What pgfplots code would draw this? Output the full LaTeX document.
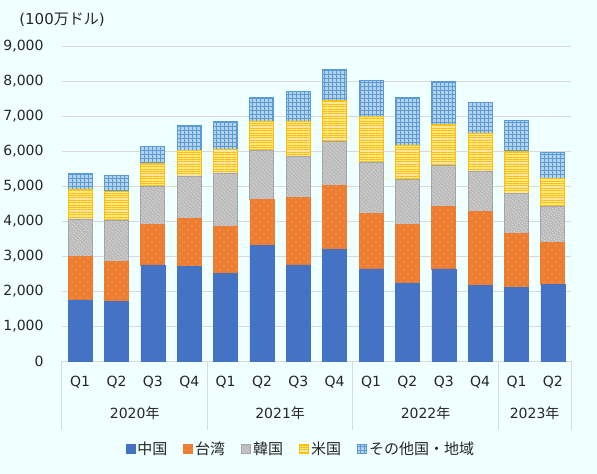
\documentclass[border=0pt]{standalone}
\usepackage{fontspec}
\setmainfont{DejaVu Sans}
\newfontfamily\cjk{Noto Sans CJK JP}
\usepackage{pgfplots}
\usepackage{pgfplotstable}
\pgfplotsset{compat=1.18}
\usetikzlibrary{patterns,patterns.meta}
\definecolor{bg}{HTML}{F0FFFF}
\definecolor{cchina}{HTML}{4472C4}
\definecolor{ctaiwan}{HTML}{ED7D31}
\definecolor{ckorea}{HTML}{A5A5A5}
\definecolor{cus}{HTML}{FFC000}
\definecolor{cother}{HTML}{5B9BD5}
\definecolor{gridc}{HTML}{D9D9D9}
\definecolor{txt}{HTML}{262626}
\pgfplotstableread{
x china taiwan korea us other
0 1743 1257 1029 857 477
1 1714 1134 1162 847 448
2 2743 1152 1086 648 504
3 2714 1353 1209 734 723
4 2514 1334 1504 677 819
5 3295 1324 1391 838 685
6 2743 1933 1153 1028 848
7 3200 1810 1257 1181 885
8 2629 1581 1466 1324 1019
9 2229 1666 1295 981 1362
10 2629 1781 1171 1162 1247
11 2171 2096 1143 1085 895
12 2114 1534 1133 1219 867
13 2200 1190 1020 800 752
}\datatable
\newcommand{\tfont}{\fontsize{14bp}{17bp}\selectfont}
\newcommand{\lfont}{\fontsize{15bp}{18bp}\selectfont}
\begin{document}
\begin{tikzpicture}
\fill[bg] (-62bp,-113bp) rectangle (535bp,361bp);
\path[use as bounding box] (-62bp,-113bp) rectangle (535bp,361bp);
\begin{axis}[
  at={(0,0)}, anchor=south west,
  scale only axis, width=509bp, height=315bp,
  clip=false,
  ybar stacked, bar width=24bp,
  xmin=-0.5, xmax=13.5, ymin=0, ymax=9000,
  xtick={0,...,13},
  xticklabels={Q1,Q2,Q3,Q4,Q1,Q2,Q3,Q4,Q1,Q2,Q3,Q4,Q1,Q2},
  ytick={0,1000,...,9000},
  scaled y ticks=false,
  /pgf/number format/1000 sep={,},
  /pgf/number format/assume math mode=true,
  ymajorgrids, grid style={draw=gridc, line width=1bp},
  axis x line*=bottom, axis y line*=left,
  x axis line style={draw=gridc, line width=1bp, -},
  y axis line style={draw=none},
  major tick length=0pt,
  tick style={draw=none},
  xticklabel style={font=\tfont, text=txt, anchor=center, yshift=-21bp},
  yticklabel style={font=\tfont, text=txt, anchor=east, xshift=-15bp},
  legend style={draw=none, fill=none, legend columns=-1,
    at={(0.4695,-0.2794)}, anchor=center, font=\lfont, text=txt,
    /tikz/every even column/.append style={column sep=14bp}},
  myleg/.style={legend image code/.code={\draw[##1] (0bp,-4.5bp) rectangle (9bp,4.5bp);}},
]
\addplot[myleg, fill=cchina, draw=cchina, line width=0.5bp] table[x=x,y=china] {\datatable};
\addplot[myleg, fill=ctaiwan, draw=ctaiwan, line width=0.8bp,
  postaction={pattern={Dots[angle=45,distance=5.657bp,radius=0.6bp]}, pattern color=white}] table[x=x,y=taiwan] {\datatable};
\addplot[myleg, fill=ckorea!75, draw=ckorea, line width=1bp,
  postaction={pattern={Dots[angle=45,distance=2.83bp,radius=0.55bp]}, pattern color=white}] table[x=x,y=korea] {\datatable};
\addplot[myleg, fill=cus!40, draw=cus, line width=1bp,
  postaction={pattern={Lines[angle=0,distance=2.4bp,line width=1bp]}, pattern color=cus}] table[x=x,y=us] {\datatable};
\addplot[myleg, fill=cother!45, draw=cother, line width=1bp,
  postaction={pattern={Hatch[angle=0,distance=4bp,line width=0.8bp]}, pattern color=cother}] table[x=x,y=other] {\datatable};
\legend{{\cjk 中国},{\cjk 台湾},{\cjk 韓国},{\cjk 米国},{\cjk その他国・地域}}
\draw[gridc, line width=1bp] (axis cs:-0.5,0) -- ++(0bp,-69bp);
\draw[gridc, line width=1bp] (axis cs:3.5,0) -- ++(0bp,-69bp);
\draw[gridc, line width=1bp] (axis cs:7.5,0) -- ++(0bp,-69bp);
\draw[gridc, line width=1bp] (axis cs:11.5,0) -- ++(0bp,-69bp);
\draw[gridc, line width=1bp] (axis cs:13.5,0) -- ++(0bp,-69bp);
\node[font=\tfont, text=txt] at ([yshift=-52bp]axis cs:1.5,0) {2020{\cjk 年}};
\node[font=\tfont, text=txt] at ([yshift=-52bp]axis cs:5.5,0) {2021{\cjk 年}};
\node[font=\tfont, text=txt] at ([yshift=-52bp]axis cs:9.5,0) {2022{\cjk 年}};
\node[font=\tfont, text=txt] at ([yshift=-52bp]axis cs:12.5,0) {2023{\cjk 年}};
\end{axis}
\node[font=\lfont, text=txt] at (0bp,341bp) {(100{\cjk 万ドル})};
\end{tikzpicture}
\end{document}
